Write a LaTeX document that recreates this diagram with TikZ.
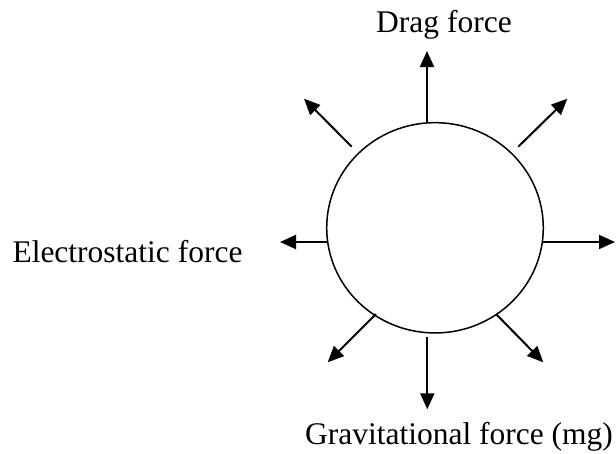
\documentclass[tikz,border=0pt]{standalone}
\usepackage{fontspec}
\setmainfont{Liberation Serif}
\usetikzlibrary{arrows.meta,shapes.geometric}
\begin{document}
\begin{tikzpicture}[x=1pt,y=-1pt,
  force/.style={line width=2pt,-{Triangle[length=16pt,width=14pt]}},
  lbl/.style={anchor=base,inner sep=0pt,font=\fontsize{31.5}{36}\selectfont}]
\useasboundingbox (0,0) rectangle (616,453);
\node[draw,ellipse,line width=1.5pt,minimum width=216.6pt,minimum height=210.3pt,inner sep=0pt] (p) at (435,227.8) {};
% tails
\coordinate (tU) at (427,122.7);
\coordinate (tUL) at (351.7,146.7);
\coordinate (tUR) at (518.3,146.7);
\coordinate (tL) at (327,242);
\coordinate (tR) at (543,242);
\coordinate (tD) at (427.3,337);
\coordinate (tDL) at (376,314);
\coordinate (tDR) at (496,314);
% tips
\coordinate (hU) at (427,51);
\coordinate (hUL) at (304,98.7);
\coordinate (hUR) at (567.3,98.7);
\coordinate (hL) at (280,242);
\coordinate (hR) at (615,242);
\coordinate (hD) at (427.3,409.3);
\coordinate (hDL) at (327.7,362.3);
\coordinate (hDR) at (543.3,362.3);
\foreach \n in {U,UL,UR,L,R,D,DL,DR} \draw[force] (t\n) -- (h\n);
\node[lbl] (drag) at (444,32) {Drag force};
\node[lbl] (elec) at (127.5,262) {Electrostatic force};
\node[lbl] (grav) at (459,444) {Gravitational force (mg)};
\end{tikzpicture}
\end{document}
